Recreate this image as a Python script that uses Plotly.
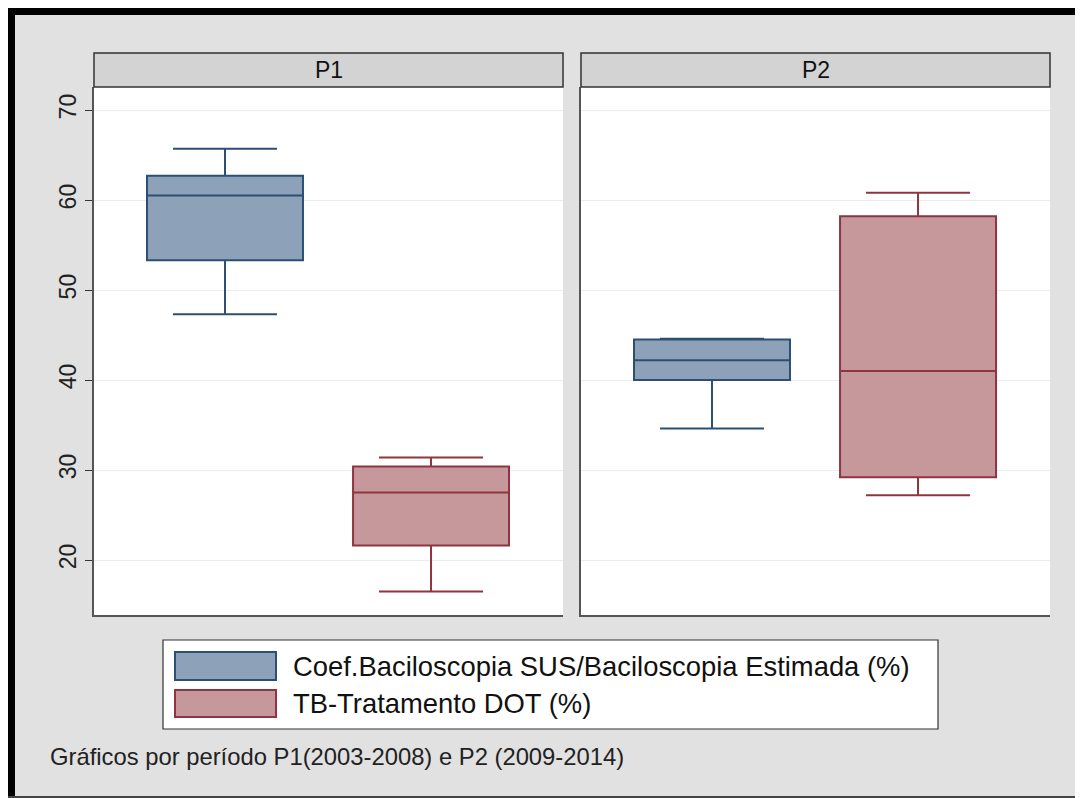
import plotly.graph_objects as go

# ---- data ----
periods = ["P1", "P2"]
series_names = ["Coef.Baciloscopia SUS/Baciloscopia Estimada (%)", "TB-Tratamento DOT (%)"]
# per series, per period
lower_whisker = {"Coef.Baciloscopia SUS/Baciloscopia Estimada (%)": [47.3, 34.6],
                 "TB-Tratamento DOT (%)": [16.5, 27.2]}
q1_vals = {"Coef.Baciloscopia SUS/Baciloscopia Estimada (%)": [53.3, 40.0],
           "TB-Tratamento DOT (%)": [21.6, 29.2]}
median_vals = {"Coef.Baciloscopia SUS/Baciloscopia Estimada (%)": [60.5, 42.2],
               "TB-Tratamento DOT (%)": [27.5, 41.0]}
q3_vals = {"Coef.Baciloscopia SUS/Baciloscopia Estimada (%)": [62.7, 44.5],
           "TB-Tratamento DOT (%)": [30.4, 58.2]}
upper_whisker = {"Coef.Baciloscopia SUS/Baciloscopia Estimada (%)": [65.7, 44.6],
                 "TB-Tratamento DOT (%)": [31.4, 60.8]}
y_ticks = [20, 30, 40, 50, 60, 70]
note_text = "Gráficos por período P1(2003-2008) e P2 (2009-2014)"

fills = ["#8da2b8", "#c6979b"]
lines = ["#2c4f73", "#8e3540"]

# page offset (browser body margin)
OX, OY = 8, 8
W, H = 1075, 790
ML, MR, MT, MB = 86, 33, 45, 183
PW = W - ML - MR
PH = H - MT - MB


def px(x):
    """reference page x pixel -> paper x"""
    return (x - OX - ML) / PW


def py(y):
    """reference page y pixel -> paper y"""
    return (H - MB - (y - OY)) / PH


fig = go.Figure()
for pi, per in enumerate(periods):
    xa = "x" if pi == 0 else "x2"
    ya = "y" if pi == 0 else "y2"
    for si, s in enumerate(series_names):
        fig.add_trace(go.Box(
            x=[s], q1=[q1_vals[s][pi]], median=[median_vals[s][pi]], q3=[q3_vals[s][pi]],
            lowerfence=[lower_whisker[s][pi]], upperfence=[upper_whisker[s][pi]],
            name=s, fillcolor=fills[si], line=dict(color=lines[si], width=2),
            width=0.757, whiskerwidth=0.667, boxpoints=False, showlegend=False,
            xaxis=xa, yaxis=ya, hoverinfo="skip"))

top_dom = py(87)
d1 = [0, px(563)]
d2 = [px(581), 1]
xr = [-0.6358, 1.6405]
yr = [13.89, 72.56]

axis_common = dict(showline=True, linecolor="#555555", linewidth=1.5,
                   showticklabels=False, ticks="", showgrid=False,
                   categoryorder="array", categoryarray=series_names,
                   range=xr, zeroline=False, fixedrange=True)
fig.update_layout(
    xaxis=dict(domain=d1, anchor="y", **axis_common),
    xaxis2=dict(domain=d2, anchor="y2", **axis_common),
    yaxis=dict(domain=[0, top_dom], anchor="x", range=yr, tickvals=y_ticks,
               ticks="outside", ticklen=7, tickcolor="#333333", tickwidth=1.2,
               tickangle=-90, showline=True, linecolor="#555555", linewidth=1.5,
               showgrid=True, gridcolor="#ececec", gridwidth=1, zeroline=False,
               tickfont=dict(family="Liberation Sans, Arial", size=23, color="#222222")),
    yaxis2=dict(domain=[0, top_dom], anchor="x2", range=yr, tickvals=y_ticks,
                matches="y", showticklabels=False, ticks="", showline=True,
                linecolor="#555555", linewidth=1.5, showgrid=True, gridcolor="#ececec",
                gridwidth=1, zeroline=False),
)

shapes = []
annotations = []
# strips
for pi, (x0, x1) in enumerate([(94, 563), (581, 1050)]):
    shapes.append(dict(type="rect", xref="paper", yref="paper", x0=px(x0), x1=px(x1),
                       y0=py(87), y1=py(53), fillcolor="#d3d3d3",
                       line=dict(color="#333333", width=1.5)))
    annotations.append(dict(text=periods[pi], xref="paper", yref="paper",
                            x=px((x0 + x1) / 2), y=py(70), showarrow=False,
                            xanchor="center", yanchor="middle",
                            font=dict(family="Liberation Sans, Arial", size=23, color="#111111")))

# legend (drawn)
shapes.append(dict(type="rect", xref="paper", yref="paper", x0=px(163), x1=px(938),
                   y0=py(729), y1=py(640), fillcolor="white",
                   line=dict(color="#333333", width=1.2)))
for si, s in enumerate(series_names):
    yt, yb = [(652, 680), (690, 717)][si]
    shapes.append(dict(type="rect", xref="paper", yref="paper", x0=px(175), x1=px(276),
                       y0=py(yb), y1=py(yt), fillcolor=fills[si],
                       line=dict(color=lines[si], width=2)))
    annotations.append(dict(text=s, xref="paper", yref="paper", x=px(291),
                            y=py((yt + yb) / 2), showarrow=False, xanchor="left",
                            yanchor="middle",
                            font=dict(family="Liberation Sans, Arial", size=27.4, color="#111111")))

annotations.append(dict(text=note_text, xref="paper", yref="paper", x=px(48), y=py(756),
                        showarrow=False, xanchor="left", yanchor="middle",
                        font=dict(family="Liberation Sans, Arial", size=23.8, color="#222222")))

# outer frame
shapes += [
    dict(type="rect", xref="paper", yref="paper", x0=px(8), x1=px(OX + W), y0=py(15), y1=py(8),
         fillcolor="black", line=dict(width=0)),
    dict(type="rect", xref="paper", yref="paper", x0=px(8), x1=px(15), y0=py(OY + H), y1=py(8),
         fillcolor="black", line=dict(width=0)),
    dict(type="rect", xref="paper", yref="paper", x0=px(8), x1=px(OX + W), y0=py(OY + H),
         y1=py(OY + H - 2), fillcolor="#444444", line=dict(width=0)),
]

fig.update_layout(
    width=W, height=H, autosize=False,
    margin=dict(l=ML, r=MR, t=MT, b=MB, pad=0),
    paper_bgcolor="#e1e1e1", plot_bgcolor="white",
    shapes=shapes, annotations=annotations, showlegend=False,
    font=dict(family="Liberation Sans, Arial"),
)

fig.write_html("out.html")
